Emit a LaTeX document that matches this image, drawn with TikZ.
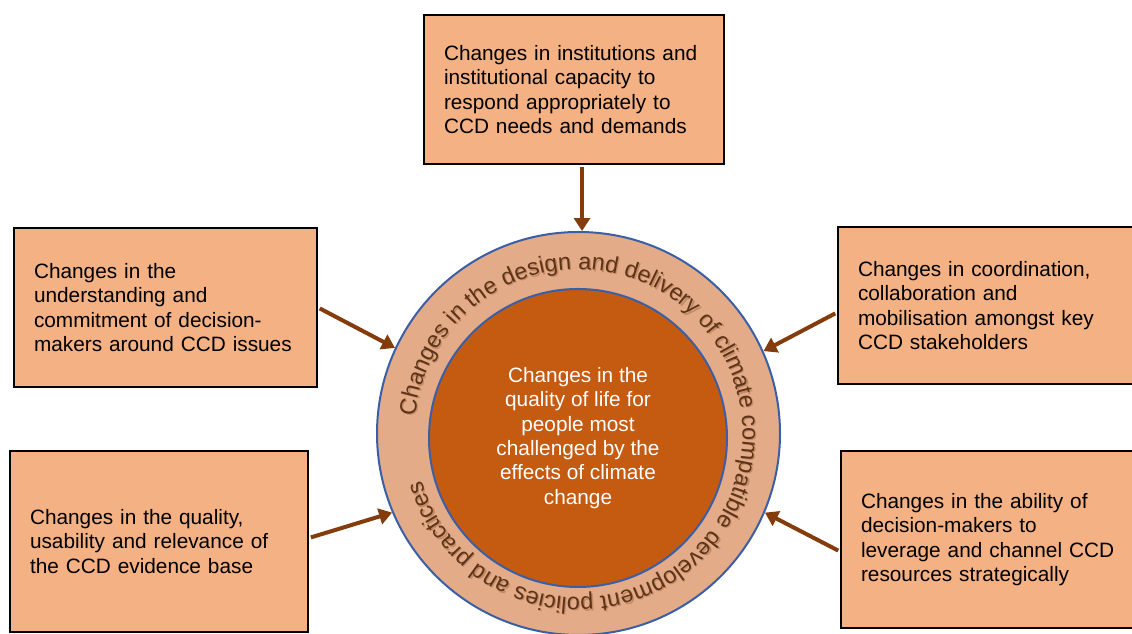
\documentclass[tikz,border=0pt]{standalone}
\usepackage{fontspec}
\setmainfont{Liberation Sans}
\usepackage{tikz}
\usetikzlibrary{
  arrows.meta,
  calc,
  decorations.text
}
\definecolor{boxfill}{HTML}{F4B183}
\definecolor{ringfill}{HTML}{E3AB87}
\definecolor{corefill}{HTML}{C55A11}
\definecolor{rim}{HTML}{3A5FA6}
\definecolor{arrowc}{HTML}{843C0C}
\definecolor{ringtxt}{HTML}{5E3419}
\definecolor{ringshade}{HTML}{C38A66}
\newlength{\unitpx}
\setlength{\unitpx}{0.75pt}
\newcommand{\chgfont}{\fontsize{15.6}{18.3}\selectfont\hyphenpenalty=10000}
\newcommand{\arcfont}{\fontsize{17.6}{20}\selectfont}

\begin{document}
\begin{tikzpicture}[
  x=0.75pt, y=0.75pt,
  change/.style={draw, line width=1.5pt, fill=boxfill, font=\chgfont,
                 align=left, inner xsep=20\unitpx, inner ysep=0pt},
  link/.style={draw=arrowc, line width=3pt, shorten <=2\unitpx,
               -{Triangle[length=9.75pt, width=12pt]}},
  disc/.style={circle, draw=rim, line width=1.5pt, inner sep=0pt}
]
  \useasboundingbox (0,0) rectangle (1132,634);

  % Outer ring with its lettering
  \node[disc, fill=ringfill, minimum size=403\unitpx] (ring) at (578.5,200.5) {};
  \foreach \dx/\col in {1.3/ringshade, 0/ringtxt} {
    \path[decorate, decoration={text along path, text color=\col,
      text={|\arcfont|Changes in the design and delivery of climate compatible development policies and practices}}]
      ($(ring.center)+(\dx,-\dx)$) ++(174:164) arc[start angle=174, end angle=-185, radius=164];
  }

  % Centre
  \node[disc, fill=corefill, minimum size=298\unitpx, font=\chgfont, text=white, align=center]
    (core) at (578,196) {Changes in the\\quality of life for\\people most\\challenged by the\\effects of climate\\change};

  % Boxes around
  \node[change, text width=260\unitpx, minimum height=149\unitpx] (inst) at (574,544.5)
    {Changes in institutions and\\institutional capacity to\\respond appropriately to\\CCD needs and demands};
  \node[change, text width=263\unitpx, minimum height=159\unitpx] (und) at (165.5,326.5)
    {Changes in the\\understanding and\\commitment of decision-\\makers around CCD issues};
  \node[change, text width=260\unitpx, minimum height=157\unitpx] (coord) at (988,328.5)
    {Changes in coordination,\\collaboration and\\mobilisation amongst key\\CCD stakeholders};
  \node[change, text width=258\unitpx, minimum height=181\unitpx] (evid) at (159,92.5)
    {Changes in the quality,\\usability and relevance of\\the CCD evidence base};
  \node[change, text width=260\unitpx, minimum height=177\unitpx] (lev) at (991,94.5)
    {Changes in the ability of\\decision-makers to\\leverage and channel CCD\\resources strategically};

  % Arrows into the ring
  \draw[link] (inst.south -| ring.89) -- (ring.89);
  \draw[link] (und.east) -- (ring.155);
  \draw[link] ($(coord.west)+(0,-7)$) -- (ring.24);
  \draw[link] ($(evid.east)+(0,3.5)$) -- (ring.203);
  \draw[link] ($(lev.west)+(0,-12)$) -- (ring.-23);
\end{tikzpicture}
\end{document}
